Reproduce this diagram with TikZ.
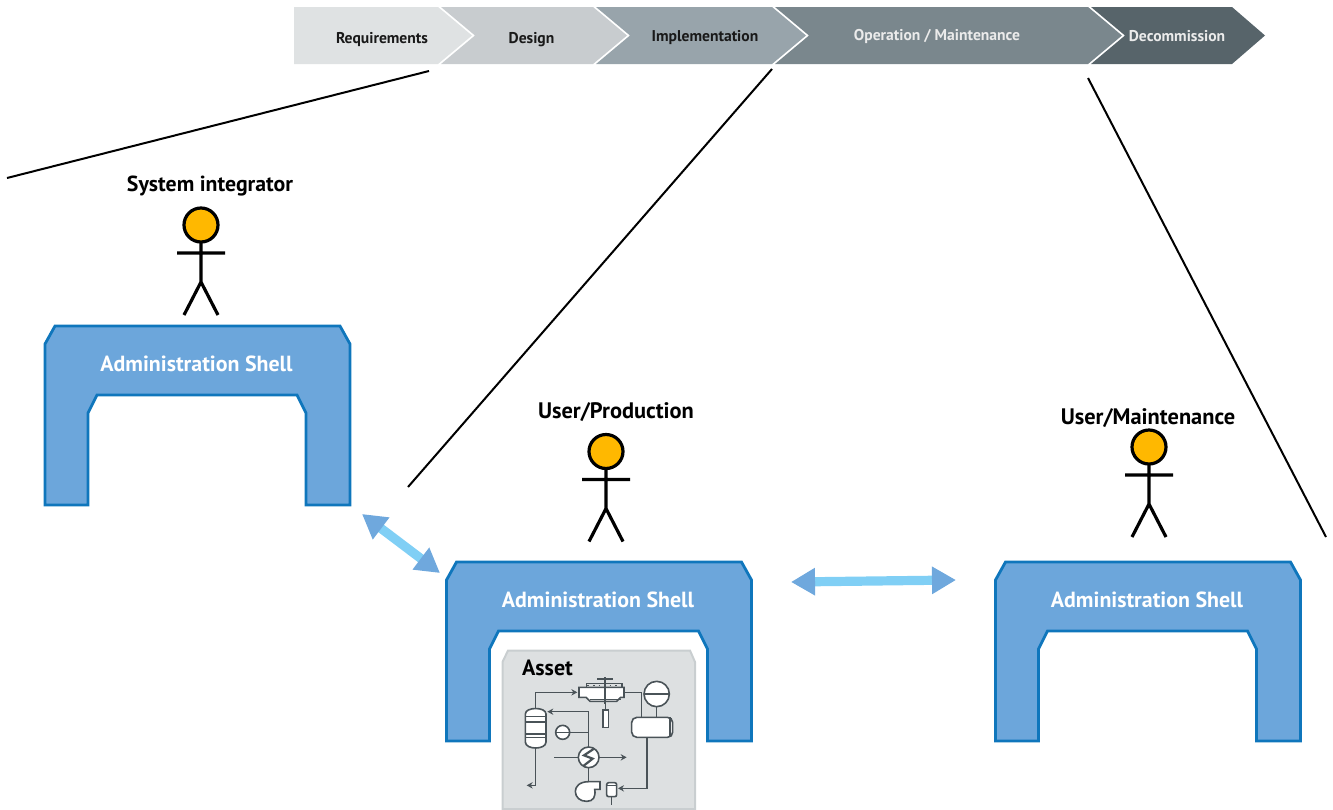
\documentclass[tikz,border=0pt]{standalone}
\usepackage{fontspec}
\setmainfont{PT Sans}
\usetikzlibrary{arrows.meta}
\definecolor{shellfill}{HTML}{6CA6DB}
\definecolor{shellline}{HTML}{0F76BC}
\definecolor{arrowhead}{HTML}{6FA8DD}
\definecolor{arrowbar}{HTML}{80CFF5}
\definecolor{headcol}{HTML}{FFB800}
\definecolor{assetfill}{HTML}{DDE0E1}
\definecolor{assetline}{HTML}{C9CED0}
\definecolor{pidline}{HTML}{4A5358}
\definecolor{chA}{HTML}{DFE2E3}
\definecolor{chB}{HTML}{C8CCCF}
\definecolor{chC}{HTML}{98A4AB}
\definecolor{chD}{HTML}{7A878D}
\definecolor{chE}{HTML}{57646A}
\tikzset{
  x=0.5pt,y=-0.5pt,
  phaselabel/.style={font=\bfseries\fontsize{7.8}{9}\selectfont,inner sep=0pt,anchor=center},
  actorlabel/.style={font=\bfseries\fontsize{10.9}{12}\selectfont,inner sep=0pt,anchor=center,text=black},
  shelllabel/.style={font=\bfseries\fontsize{10.95}{12}\selectfont,inner sep=0pt,anchor=center,text=white},
  shellbody/.style={fill=shellfill,draw=shellline,line width=1.4pt,line join=miter},
  limb/.style={draw=black,line width=1.6pt},
  scopeline/.style={draw=black,line width=1pt},
  exchange/.style={draw=arrowbar,line width=4.6pt,
    {Triangle[length=12pt,width=13pt,color=arrowhead]}-{Triangle[length=12pt,width=13pt,color=arrowhead]}},
  pid/.style={draw=pidline,line width=0.8pt},
  pidbox/.style={draw=pidline,line width=0.8pt,fill=white},
  pidtip/.style={-{Stealth[length=3pt,width=3.2pt]}},
  pics/actor/.style={code={
    \draw[limb,fill=headcol] (0,0) circle[radius=17];
    \draw[limb] (0,17) -- (0,57) (-24,28) -- (24,28) (-17,90) -- (0,57) -- (17,90);
  }},
  pics/shell/.style={code={
    \path[shellbody] (0,18) -- (10,0) -- (295,0) -- (305,18) -- (305,179) -- (261,179) -- (261,87)
      -- (252,69) -- (52,69) -- (43,87) -- (43,179) -- (0,179) -- cycle;
    \node[shelllabel] at (151.5,38) {Administration Shell};
  }}
}
\begin{document}
\begin{tikzpicture}
\useasboundingbox (0,0) rectangle (1333,809);
% phases
\fill[chA] (294,7) -- (438,7) -- (472,35.5) -- (438,64) -- (294,64) -- cycle;
\fill[chB] (441,7) -- (593,7) -- (627,35.5) -- (593,64) -- (441,64) -- (475,35.5) -- cycle;
\fill[chC] (596,7) -- (772,7) -- (806,35.5) -- (772,64) -- (596,64) -- (630,35.5) -- cycle;
\fill[chD] (775,7) -- (1088,7) -- (1122,35.5) -- (1088,64) -- (775,64) -- (809,35.5) -- cycle;
\fill[chE] (1091,7) -- (1232,7) -- (1265,35.5) -- (1232,64) -- (1091,64) -- (1125,35.5) -- cycle;
\node[phaselabel,text=black!90] (req) at (382,39.5) {Requirements};
\node[phaselabel,text=black!90] (des) at (531.5,40) {Design};
\node[phaselabel,text=black!90] (imp) at (705,38) {Implementation};
\node[phaselabel,text=white!92!black] (ope) at (937,36) {Operation / Maintenance};
\node[phaselabel,text=white!92!black] (dec) at (1177,36) {Decommission};
% scope lines
\coordinate (la) at (7,178); \coordinate (lb) at (429,71);
\coordinate (lc) at (772,69); \coordinate (ld) at (408,487);
\coordinate (le) at (1088,78); \coordinate (lf) at (1326,537);
\draw[scopeline] (la) -- (lb);
\draw[scopeline] (lc) -- (ld);
\draw[scopeline] (le) -- (lf);
% shells
\pic at (45,326) {shell};
\pic at (446.5,562) {shell};
\pic at (995.5,562) {shell};
% actors
\node[actorlabel] (si) at (210,186) {System integrator};
\pic at (201,225) {actor};
\node[actorlabel,font=\bfseries\fontsize{11.2}{12}\selectfont] (up) at (616,412) {User/Production};
\pic at (606,451.5) {actor};
\node[actorlabel,font=\bfseries\fontsize{11.2}{12}\selectfont] (um) at (1148,418) {User/Maintenance};
\pic at (1149,447) {actor};
% exchange arrows
\coordinate (ea) at (362,514); \coordinate (eb) at (440,573);
\coordinate (ec) at (791,582); \coordinate (ed) at (956,580);
\draw[exchange] (ea) -- (eb);
\draw[exchange] (ec) -- (ed);
% asset
\fill[assetfill,draw=assetline,line width=1pt] (502.5,809) -- (502.5,662) -- (508,650.5) -- (690,650.5) -- (695,662) -- (695,809) -- cycle;
\node[font=\bfseries\fontsize{11}{12}\selectfont,inner sep=0pt] (asset) at (547.5,668) {Asset};
\begin{scope}[shift={(490,640)},x=0.16667pt,y=-0.16667pt]
  % piping
  \draw[pid,pidtip] (137,205) -- (137,157) -- (262,157);
  \draw[pid] (400,157) -- (455,157) -- (455,232);
  \draw[pid,pidtip] (296,295) -- (296,215) -- (172,215);
  \draw[pid] (238,277) -- (296,277);
  \draw[pid] (296,295) -- (296,325);
  \draw[pid] (192,352) -- (264,352);
  \draw[pid,pidtip] (328,352) -- (410,352);
  \draw[pid] (296,382) -- (296,425);
  \draw[pid,pidtip] (471,292) -- (471,445) -- (384,445);
  \draw[pid,pidtip] (137,322) -- (137,436) -- (110,436);
  \draw[pid] (364,470) -- (364,496);
  \draw[pid] (500,200) -- (500,232);
  \draw[pid] (346,185) -- (346,210);
  % reactor top
  \draw[pidbox] (267,142) -- (402,142) -- (402,172) -- (392,172) -- (380,184) -- (300,184) -- (288,172) -- (267,172) -- cycle;
  \draw[pid] (290,130) rectangle (396,142);
  \draw[pid,dotted] (292,136) -- (394,136);
  \draw[pid,line width=1.1pt] (346,112) -- (346,192);
  \draw[pid,line width=1.1pt] (322,116) -- (370,116);
  \draw[pid] (300,178) -- (392,178);
  \draw[pidbox] (339,210) rectangle (355,262);
  % column
  \draw[pidbox] (106,222) .. controls (106,200) and (168,200) .. (168,222) -- (168,306) .. controls (168,330) and (106,330) .. (106,306) -- cycle;
  \draw[pid] (106,230) -- (168,230) (106,246) -- (168,246) (106,282) -- (168,282) (106,292) -- (168,292);
  % indicator
  \draw[pidbox] (218,277) circle[radius=21];
  \draw[pid] (197,277) -- (239,277);
  % heat exchanger
  \draw[pidbox] (296,352) circle[radius=31];
  \draw[pid,line width=1.1pt] (312,326) -- (282,346) -- (308,356) -- (280,378);
  % pump
  \draw[pidbox] (330,425) -- (296,425) .. controls (268,425) and (256,440) .. (256,454) .. controls (256,472) and (270,484) .. (290,484) .. controls (310,484) and (318,470) .. (314,448) -- (330,448) -- cycle;
  % filter
  \draw[pidbox,rounded corners=1pt] (350,428) rectangle (380,470);
  \draw[pid] (350,436) -- (380,436);
  % drum and sphere
  \draw[pidbox,rounded corners=2.6pt] (425,232) rectangle (548,292);
  \draw[pid] (540,232) -- (540,292);
  \draw[pidbox] (500,162) circle[radius=38];
  \draw[pid] (462,162) -- (538,162);
\end{scope}
\end{tikzpicture}
\end{document}
